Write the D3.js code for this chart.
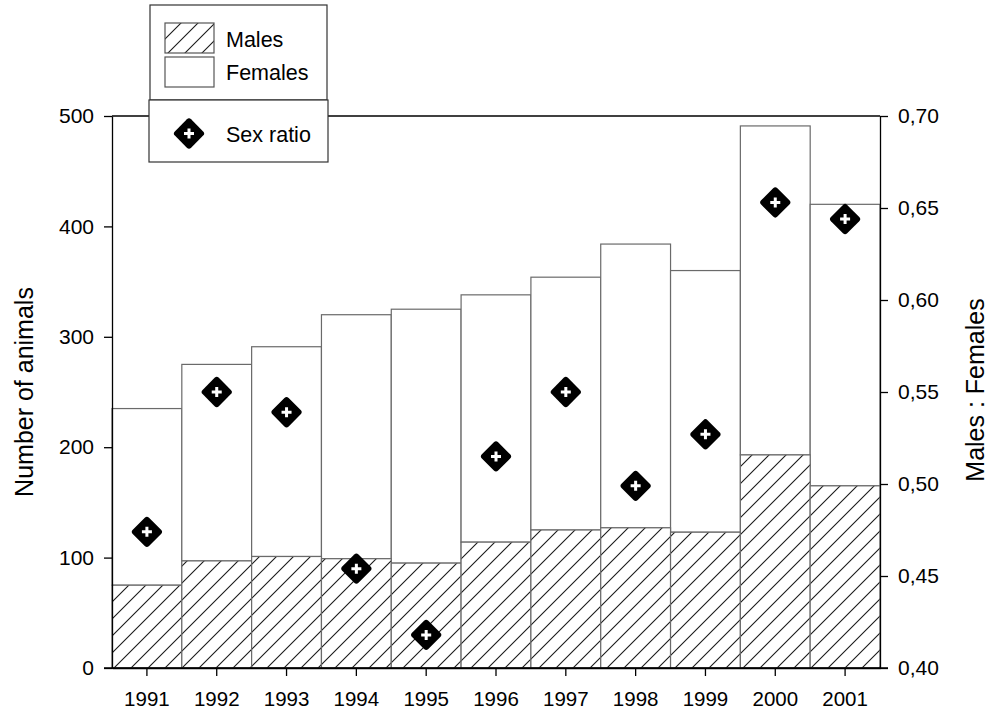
<!DOCTYPE html>
<html>
<head>
<meta charset="utf-8">
<script src="https://cdn.jsdelivr.net/npm/d3@7"></script>
<style>
  html, body { margin: 0; padding: 0; background: #fff; }
  svg { display: block; }
  text { font-family: "Liberation Sans", Arial, sans-serif; fill: #000; }
</style>
</head>
<body>
<svg id="chart" width="990" height="716"></svg>
<script>
// ---- data ----
const years = ["1991","1992","1993","1994","1995","1996","1997","1998","1999","2000","2001"];
const males = [75, 97, 101, 99, 95, 114, 125, 127, 123, 193, 165];
const females = [160, 178, 190, 221, 230, 224, 229, 257, 237, 298, 255];
const sexRatio = [0.474, 0.550, 0.539, 0.454, 0.418, 0.515, 0.550, 0.499, 0.527, 0.653, 0.644];
const leftTicks = [0, 100, 200, 300, 400, 500];
const rightTicks = [0.40, 0.45, 0.50, 0.55, 0.60, 0.65, 0.70];
const legendLabels = ["Males", "Females", "Sex ratio"];
const leftTitle = "Number of animals";
const rightTitle = "Males : Females";

// ---- layout ----
const W = 990, H = 716;
const plot = { left: 112, right: 880, top: 116, bottom: 668 };

const svg = d3.select("#chart");

const defs = svg.append("defs");
const pat = defs.append("pattern")
  .attr("id", "hatch")
  .attr("patternUnits", "userSpaceOnUse")
  .attr("width", 17).attr("height", 17);
pat.append("rect").attr("width", 17).attr("height", 17).attr("fill", "#fff");
pat.append("path")
  .attr("d", "M-2,2 L2,-2 M0,17 L17,0 M15,19 L19,15")
  .attr("stroke", "#1a1a1a").attr("stroke-width", 1.1);

const x = d3.scaleBand().domain(years).range([plot.left, plot.right]).padding(0);
const yL = d3.scaleLinear().domain([0, 500]).range([plot.bottom, plot.top]);
const yR = d3.scaleLinear().domain([0.40, 0.70]).range([plot.bottom, plot.top]);

// stacked data
const rows = years.map((yr, i) => ({ year: yr, males: males[i], females: females[i] }));
const stack = d3.stack().keys(["males", "females"])(rows);

// bars
const barG = svg.append("g");
// females (upper segment)
barG.selectAll("rect.fem")
  .data(stack[1])
  .join("rect")
  .attr("class", "fem")
  .attr("x", d => x(d.data.year))
  .attr("width", x.bandwidth())
  .attr("y", d => yL(d[1]))
  .attr("height", d => yL(d[0]) - yL(d[1]))
  .attr("fill", "#fff")
  .attr("stroke", "#6a6a6a")
  .attr("stroke-width", 1.2);
// males (lower segment, hatched)
barG.selectAll("rect.male")
  .data(stack[0])
  .join("rect")
  .attr("class", "male")
  .attr("x", d => x(d.data.year))
  .attr("width", x.bandwidth())
  .attr("y", d => yL(d[1]))
  .attr("height", d => yL(d[0]) - yL(d[1]))
  .attr("fill", "url(#hatch)")
  .attr("stroke", "#6a6a6a")
  .attr("stroke-width", 1.2);

// top frame line
svg.append("line")
  .attr("x1", plot.left).attr("x2", plot.right)
  .attr("y1", plot.top).attr("y2", plot.top)
  .attr("stroke", "#000").attr("stroke-width", 1.3);

// axes
function styleAxis(g, fs) {
  g.selectAll(".domain").attr("stroke", "#000").attr("stroke-width", 1.3);
  g.selectAll(".tick line").attr("stroke", "#000").attr("stroke-width", 1.3);
  g.selectAll(".tick text")
    .attr("font-family", "'Liberation Sans', Arial, sans-serif")
    .attr("font-size", fs).attr("fill", "#000");
}

const axL = svg.append("g")
  .attr("transform", `translate(${plot.left},0)`)
  .call(d3.axisLeft(yL).tickValues(leftTicks).tickSize(8).tickSizeOuter(0).tickPadding(10));
styleAxis(axL, "21px");

const axR = svg.append("g")
  .attr("transform", `translate(${plot.right},0)`)
  .call(d3.axisRight(yR).tickValues(rightTicks).tickSize(8).tickSizeOuter(0).tickPadding(10)
    .tickFormat(d => d3.format(".2f")(d).replace(".", ",")));
styleAxis(axR, "21px");

const axB = svg.append("g")
  .attr("transform", `translate(0,${plot.bottom})`)
  .call(d3.axisBottom(x).tickSize(8).tickSizeOuter(0).tickPadding(15));
styleAxis(axB, "20.5px");
// extend bottom baseline to outer tick positions of the y axes
svg.append("line")
  .attr("x1", plot.left - 8).attr("x2", plot.right + 8)
  .attr("y1", plot.bottom).attr("y2", plot.bottom)
  .attr("stroke", "#000").attr("stroke-width", 1.3);

// axis titles
svg.append("text")
  .attr("transform", `translate(33,${(plot.top + plot.bottom) / 2 + 0}) rotate(-90)`)
  .attr("text-anchor", "middle")
  .attr("font-size", "25px")
  .text(leftTitle);
svg.append("text")
  .attr("transform", `translate(984,${(plot.top + plot.bottom) / 2 - 2}) rotate(-90)`)
  .attr("text-anchor", "middle")
  .attr("font-size", "25px")
  .text(rightTitle);

// marker function
function drawMarker(g) {
  g.append("rect")
    .attr("x", -11.5).attr("y", -11.5)
    .attr("width", 23).attr("height", 23)
    .attr("rx", 3).attr("ry", 3)
    .attr("transform", "rotate(45)")
    .attr("fill", "#000");
  g.append("path")
    .attr("d", "M-5,0H5M0,-5V5")
    .attr("stroke", "#fff").attr("stroke-width", 3);
}

// sex ratio markers
svg.append("g").selectAll("g.mk")
  .data(years.map((yr, i) => ({ year: yr, v: sexRatio[i] })))
  .join("g")
  .attr("class", "mk")
  .attr("transform", d => `translate(${x(d.year) + x.bandwidth() / 2},${yR(d.v)})`)
  .each(function () { drawMarker(d3.select(this)); });

// legend
const lg = svg.append("g");
lg.append("rect")
  .attr("x", 150).attr("y", 5).attr("width", 177).attr("height", 95)
  .attr("fill", "#fff").attr("stroke", "#333").attr("stroke-width", 1.2);
lg.append("rect")
  .attr("x", 149).attr("y", 100).attr("width", 179).attr("height", 62)
  .attr("fill", "#fff").attr("stroke", "#333").attr("stroke-width", 1.2);
lg.append("rect")
  .attr("x", 165).attr("y", 23).attr("width", 49).attr("height", 30)
  .attr("fill", "url(#hatch)").attr("stroke", "#555").attr("stroke-width", 1.2);
lg.append("rect")
  .attr("x", 165).attr("y", 57).attr("width", 49).attr("height", 30)
  .attr("fill", "#fff").attr("stroke", "#555").attr("stroke-width", 1.2);
lg.append("text").attr("x", 226).attr("y", 47).attr("font-size", "21.5px").text(legendLabels[0]);
lg.append("text").attr("x", 226).attr("y", 80).attr("font-size", "21.5px").text(legendLabels[1]);
lg.append("text").attr("x", 226).attr("y", 142).attr("font-size", "21.5px").text(legendLabels[2]);
const lm = lg.append("g").attr("transform", "translate(189,133.5)");
drawMarker(lm);
</script>
</body>
</html>
